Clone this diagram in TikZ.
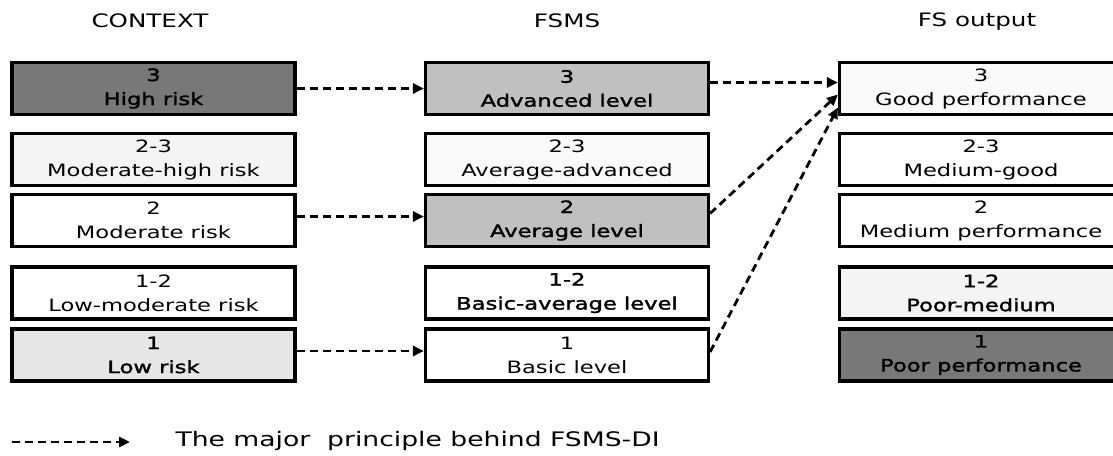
\documentclass[tikz,border=0pt]{standalone}
\usepackage{fontspec}
\setmainfont{DejaVu Sans}[FakeStretch=1.33, BoldFont=DejaVu Sans, BoldFeatures={FakeBold=1.8}]
\usetikzlibrary{arrows.meta}
\definecolor{darkfill}{HTML}{787878}
\definecolor{midfill}{HTML}{C0C0C0}
\definecolor{lightfill}{HTML}{E6E6E6}
\definecolor{palefill}{HTML}{F4F4F4}
\definecolor{nearwhite}{HTML}{FAFAFA}
\tikzset{
  lvlbox/.style={draw=black, line width=3.2pt, minimum width=283pt, minimum height=52pt,
    inner sep=0pt, align=center, font=\fontsize{17}{24}\selectfont},
  boldbox/.style={lvlbox, font=\fontsize{17}{24}\selectfont\bfseries},
  header/.style={font=\fontsize{18.5}{22}\selectfont},
  flow/.style={line width=2.8pt, dash pattern=on 8pt off 5pt, -{Triangle[length=11pt,width=10pt]}}
}
\begin{document}
\begin{tikzpicture}[x=1pt,y=-1pt]
\useasboundingbox (0,0) rectangle (1113,455);
% headers
\node[header] (hc) at (150,21) {CONTEXT};
\node[header] (hm) at (567,21) {FSMS};
\node[header] (hf) at (977,22) {FS output};
% context column
\node[boldbox, fill=darkfill] (c1) at (153.5,88.5) {3\\High risk};
\node[lvlbox, fill=palefill] (c2) at (153.5,159.5) {2-3\\Moderate-high risk};
\node[lvlbox, fill=white] (c3) at (153.5,220.5) {2\\Moderate risk};
\node[lvlbox, fill=white] (c4) at (153.5,293) {1-2\\Low-moderate risk};
\node[boldbox, fill=lightfill] (c5) at (153.5,355) {1\\Low risk};
% FSMS column
\node[boldbox, fill=midfill] (m1) at (567,88.5) {3\\Advanced level};
\node[lvlbox, fill=nearwhite] (m2) at (567,159.5) {2-3\\Average-advanced};
\node[boldbox, fill=midfill] (m3) at (567,220.5) {2\\Average level};
\node[boldbox, fill=white] (m4) at (567,293) {1-2\\Basic-average level};
\node[lvlbox, fill=white] (m5) at (567,355) {1\\Basic level};
% FS output column
\node[lvlbox, fill=nearwhite] (f1) at (981,88.5) {3\\Good performance};
\node[lvlbox, fill=white] (f2) at (981,159.5) {2-3\\Medium-good};
\node[lvlbox, fill=white] (f3) at (981,220.5) {2\\Medium performance};
\node[boldbox, fill=palefill] (f4) at (981,293) {1-2\\Poor-medium};
\node[boldbox, fill=darkfill] (f5) at (981,355) {1\\Poor performance};
% connectors
\draw[flow] (c1.east) -- (m1.west);
\draw[flow] ([yshift=4pt]c3.east) -- ([yshift=4pt]m3.west);
\draw[flow] ([yshift=4pt]c5.east) -- ([yshift=4pt]m5.west);
\draw[flow] ([yshift=6pt]m1.east) -- ([yshift=6pt]f1.west);
\draw[flow] ([yshift=7pt]m3.east) -- ([yshift=-6pt]f1.west);
\draw[flow] ([yshift=3pt]m5.east) -- ([yshift=-19pt]f1.west);
% legend
\coordinate (la) at (12,442);
\coordinate (lb) at (130,442);
\draw[flow] (la) -- (lb);
\node[anchor=west, font=\fontsize{20}{22}\selectfont] (lt) at (172,441) {The major\ \ principle behind FSMS-DI};
\end{tikzpicture}
\end{document}
